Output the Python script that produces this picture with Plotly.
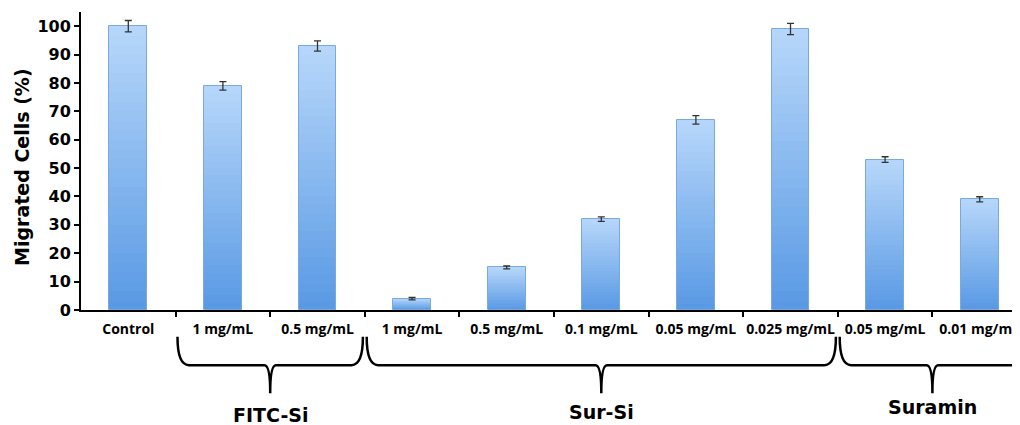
import plotly.graph_objects as go

# ---- data ----
categories = ["Control", "1 mg/mL", "0.5 mg/mL", "1 mg/mL", "0.5 mg/mL", "0.1 mg/mL",
              "0.05 mg/mL", "0.025 mg/mL", "0.05 mg/mL", "0.01 mg/mL"]
migrated = [100, 79, 93, 4, 15, 32, 67, 99, 53, 39]
errors = [2.0, 1.5, 1.8, 0.4, 0.5, 0.8, 1.5, 2.0, 1.0, 0.9]
y_ticks = [0, 10, 20, 30, 40, 50, 60, 70, 80, 90, 100]
groups = ["FITC-Si", "Sur-Si", "Suramin"]
group_start = [1, 3, 8]      # index of first category in group
group_end = [2, 7, 9]        # index of last category in group

xpos = list(range(len(categories)))
boundaries = [i + 0.5 for i in xpos[:-1]]

TOP = (183, 215, 250)
BOT = (88, 153, 228)

fig = go.Figure()

N = 30
for k in range(N):
    t = (k + 0.5) / N
    c = tuple(int(round(TOP[i] + (BOT[i] - TOP[i]) * t)) for i in range(3))
    frac = (N - k) / N
    fig.add_trace(go.Bar(
        x=xpos, y=[v * frac for v in migrated], width=0.4,
        marker=dict(color="rgb(%d,%d,%d)" % c, line=dict(width=0)),
        hoverinfo="skip", showlegend=False))

# outline + error bars
fig.add_trace(go.Bar(
    x=xpos, y=migrated, width=0.4,
    marker=dict(color="rgba(0,0,0,0)", line=dict(color="rgb(120,170,225)", width=1)),
    error_y=dict(type="data", array=errors, visible=True, color="#333333",
                 thickness=1.3, width=3.5),
    showlegend=False, name="Migrated Cells (%)"))

# invisible helper trace for the boundary-tick axis
fig.add_trace(go.Scatter(x=boundaries, y=[0] * len(boundaries), xaxis="x2",
                         mode="markers", marker=dict(opacity=0),
                         hoverinfo="skip", showlegend=False))

xr = [-0.5, 9.426]

shapes = []
top_y, mid_y, tip_y = -0.090, -0.185, -0.279
for s, e in zip(group_start, group_end):
    x0 = s - 0.5 + 0.02
    x1 = e + 0.5 - 0.02
    xt = (s + e) / 2.0
    path = (f"M {x0},{top_y} Q {x0},{mid_y} {x0+0.12},{mid_y} "
            f"L {xt-0.06},{mid_y} Q {xt},{mid_y} {xt},{tip_y} "
            f"M {xt},{tip_y} Q {xt},{mid_y} {xt+0.06},{mid_y} "
            f"L {x1-0.12},{mid_y} Q {x1},{mid_y} {x1},{top_y}")
    shapes.append(dict(type="path", path=path, xref="x", yref="paper",
                       line=dict(color="black", width=2.5)))

label_y = [-0.352, -0.342, -0.326]
annotations = []
for g, s, e, ly in zip(groups, group_start, group_end, label_y):
    annotations.append(dict(text=g, x=(s + e) / 2.0, y=ly, xref="x", yref="paper",
                            showarrow=False, xanchor="center", yanchor="middle",
                            font=dict(family="DejaVu Sans", size=19, color="black",
                                      weight="bold")))
annotations.append(dict(text="Migrated Cells (%)", x=-0.0628, y=0.48, xref="paper",
                        yref="paper", showarrow=False, textangle=-90,
                        xanchor="center", yanchor="middle",
                        font=dict(family="DejaVu Sans", size=19, color="black",
                                  weight="bold")))

# page body has an 8px margin, so the figure is sized/offset to compensate
fig.update_layout(
    width=1012, height=417,
    margin=dict(l=73, r=0, t=4, b=115, autoexpand=False),
    paper_bgcolor="white", plot_bgcolor="white",
    barmode="overlay", bargap=0,
    showlegend=False,
    xaxis=dict(range=xr, tickvals=xpos, ticktext=categories, showgrid=False,
               zeroline=False, showline=True, linecolor="black", linewidth=2,
               ticks="outside", ticklen=5, tickcolor="rgba(0,0,0,0)",
               tickfont=dict(family="Open Sans", size=14, color="black", weight="bold"),
               ticklabeloverflow="allow",
               automargin=False, fixedrange=True),
    xaxis2=dict(range=xr, overlaying="x", anchor="y", side="bottom",
                tickvals=boundaries, showticklabels=False, showgrid=False,
                zeroline=False, showline=False, ticks="outside", ticklen=6,
                tickwidth=2, tickcolor="black", automargin=False),
    yaxis=dict(range=[0, 105], tickvals=y_ticks, showgrid=False, zeroline=False,
               showline=True, linecolor="black", linewidth=2,
               ticks="outside", ticklen=5, tickwidth=1.5, tickcolor="black",
               tickfont=dict(family="DejaVu Sans", size=16, color="black", weight="bold"),
               automargin=False),
    shapes=shapes,
    annotations=annotations,
)

fig.write_html("out.html")
